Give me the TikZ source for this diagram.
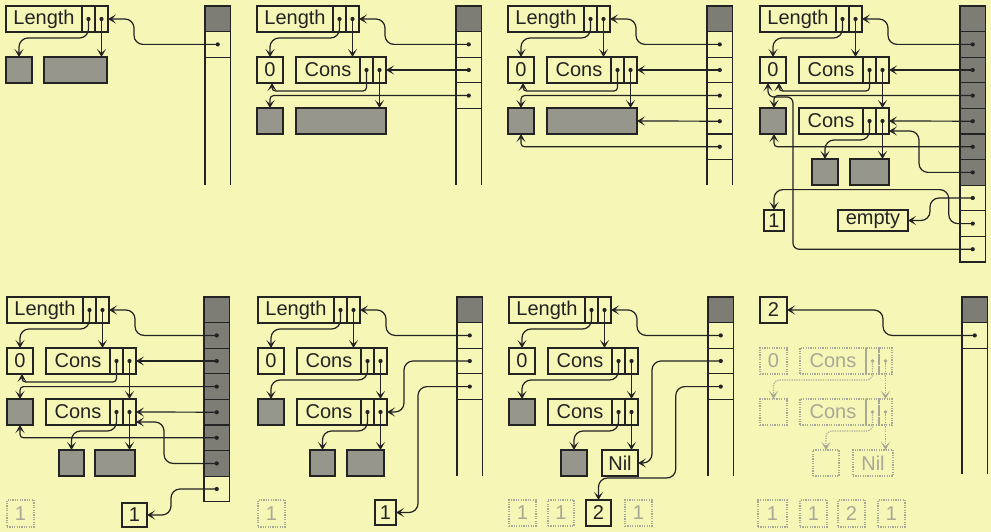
\documentclass[tikz,border=0pt]{standalone}
\usepackage{fontspec}
\setmainfont{Liberation Sans}
\usetikzlibrary{arrows.meta}
\definecolor{bg}{RGB}{246,246,182}
\definecolor{ink}{RGB}{35,35,35}
\definecolor{shadefill}{RGB}{150,150,140}
\definecolor{stackfill}{RGB}{125,125,118}
\definecolor{ghost}{RGB}{168,168,150}
\newcommand{\twocell}[2]{%
  \node[cellbox,#2] (#1c1) at (#1.north east) {};
  \node[cellbox,#2] (#1c2) at (#1c1.north east) {};}
\newcommand{\inkdot}[1]{\fill[ink] (#1.center) circle (2.1pt);}
\newcommand{\ghostdot}[1]{\fill[ghost] (#1.center) circle (1.8pt);}
\tikzset{
  base/.style={draw=ink, line width=1.2pt, inner sep=0pt, outer sep=0pt, anchor=north west,
    minimum height=26pt, text=ink, font=\fontsize{20}{22}\selectfont},
  cellbox/.style={base, minimum width=13pt},
  shaded/.style={base, fill=shadefill},
  stackcell/.style={base, minimum width=25.5pt, minimum height=25.6pt},
  stackdark/.style={stackcell, fill=stackfill},
  ghostbox/.style={base, draw=ghost, text=ghost, dash pattern=on 1.2pt off 1.2pt},
  linktip/.style={-{Stealth[length=8pt,width=9pt,inset=4pt]}},
  link/.style={draw=ink, line width=1.2pt, rounded corners=9pt, linktip},
  tight/.style={link, rounded corners=3.5pt},
  ghostlink/.style={draw=ghost, line width=1.2pt, rounded corners=6pt, dash pattern=on 1.2pt off 1.2pt,
    -{Stealth[length=8pt,width=9pt,inset=4pt]}},
  colline/.style={draw=ink, line width=1.2pt},
}
\begin{document}
\begin{tikzpicture}[x=1pt,y=-1pt]
\useasboundingbox (0,0) rectangle (991,532);
\fill[bg] (0,0) rectangle (991,532);

% ---------------- Panel A ----------------
\begin{scope}[shift={(6,6)}]
\node[base,minimum width=76pt] (a-len) at (0,0) {Length};
\twocell{a-len}{}
\node[shaded,minimum width=26pt] (a-acc) at (0,51) {};
\node[shaded,minimum width=63pt] (a-lst) at (38,51) {};
\node[stackdark] (a-s0) at (199,0) {};
\node[stackcell] (a-s1) at (199,25.6) {};
\draw[colline] (a-s1.south west) -- ++(0,127.8) (a-s1.south east) -- ++(0,127.8);
\draw[link] (a-lenc1.center) -- ++(0,19) -| (a-acc.north);
\draw[link] (a-lenc2.center) -- (a-lenc2.center |- a-lst.north);
\draw[link] (a-s1.center) -| ([xshift=26pt]a-lenc2.east) -- (a-lenc2.east);
\inkdot{a-lenc1}\inkdot{a-lenc2}\inkdot{a-s1}
\end{scope}

% ---------------- Panel B ----------------
\begin{scope}[shift={(257,6)}]
\node[base,minimum width=76pt] (b-len) at (0,0) {Length};
\twocell{b-len}{}
\node[base,minimum width=26pt] (b-zero) at (0,51) {0};
\node[base,minimum width=64pt] (b-cons) at (39,51) {Cons};
\twocell{b-cons}{}
\node[shaded,minimum width=26pt] (b-acc) at (0,102) {};
\node[shaded,minimum width=90pt] (b-lst) at (39,102) {};
\node[stackdark] (b-s0) at (199,0) {};
\foreach \i in {1,2,3} {\node[stackcell] (b-s\i) at (199,{\i*25.6}) {};}
\draw[colline] (b-s3.south west) -- ++(0,76.6) (b-s3.south east) -- ++(0,76.6);
\draw[link] (b-lenc1.center) -- ++(0,19) -| (b-zero.north);
\draw[link] (b-lenc2.center) -- (b-lenc2.center |- b-cons.north);
\draw[link] (b-s1.center) -| ([xshift=26pt]b-lenc2.east) -- (b-lenc2.east);
\draw[link] (b-s2.center) -- (b-consc2.east);
\draw[tight] (b-consc1.center) -- ++(0,21) -| ([xshift=2pt]b-zero.south);
\draw[tight] (b-s3.center) -| (b-acc.north);
\draw[link] (b-consc2.center) -- (b-consc2.center |- b-lst.north);
\inkdot{b-lenc1}\inkdot{b-lenc2}\inkdot{b-consc1}\inkdot{b-consc2}
\inkdot{b-s1}\inkdot{b-s2}\inkdot{b-s3}
\end{scope}

% ---------------- Panel C ----------------
\begin{scope}[shift={(508,6)}]
\node[base,minimum width=76pt] (c-len) at (0,0) {Length};
\twocell{c-len}{}
\node[base,minimum width=26pt] (c-zero) at (0,51) {0};
\node[base,minimum width=64pt] (c-cons) at (39,51) {Cons};
\twocell{c-cons}{}
\node[shaded,minimum width=26pt] (c-acc) at (0,102) {};
\node[shaded,minimum width=90pt] (c-lst) at (39,102) {};
\node[stackdark] (c-s0) at (199,0) {};
\foreach \i in {1,...,5} {\node[stackcell] (c-s\i) at (199,{\i*25.6}) {};}
\draw[colline] (c-s5.south west) -- ++(0,25.4) (c-s5.south east) -- ++(0,25.4);
\draw[link] (c-lenc1.center) -- ++(0,19) -| (c-zero.north);
\draw[link] (c-lenc2.center) -- (c-lenc2.center |- c-cons.north);
\draw[link] (c-s1.center) -| ([xshift=26pt]c-lenc2.east) -- (c-lenc2.east);
\draw[link] (c-s2.center) -- (c-consc2.east);
\draw[tight] (c-consc1.center) -- ++(0,21) -| ([xshift=2pt]c-zero.south);
\draw[tight] (c-s3.center) -| (c-acc.north);
\draw[link] (c-consc2.center) -- (c-consc2.center |- c-lst.north);
\draw[link] (c-s4.center) -- (c-lst.east);
\draw[tight] (c-s5.center) -| (c-acc.south);
\inkdot{c-lenc1}\inkdot{c-lenc2}\inkdot{c-consc1}\inkdot{c-consc2}
\inkdot{c-s1}\inkdot{c-s2}\inkdot{c-s3}\inkdot{c-s4}\inkdot{c-s5}
\end{scope}

% ---------------- Panel D ----------------
\begin{scope}[shift={(760,6)}]
\node[base,minimum width=76pt] (d-len) at (0,0) {Length};
\twocell{d-len}{}
\node[base,minimum width=26pt] (d-zero) at (0,51) {0};
\node[base,minimum width=64pt] (d-cons) at (39,51) {Cons};
\twocell{d-cons}{}
\node[shaded,minimum width=26pt] (d-acc) at (0,102) {};
\node[base,minimum width=64pt] (d-cons2) at (39,102) {Cons};
\twocell{d-cons2}{}
\node[shaded,minimum width=26pt] (d-r4a) at (52,153) {};
\node[shaded,minimum width=39pt] (d-r4b) at (90,153) {};
\node[base,minimum width=20pt,minimum height=21pt] (d-one) at (4,204) {1};
\node[base,minimum width=70pt,minimum height=21pt] (d-empty) at (78,204) {empty};
\foreach \i in {0,...,6} {\node[stackdark] (d-s\i) at (200,{\i*25.6}) {};}
\foreach \i in {7,8,9} {\node[stackcell] (d-s\i) at (200,{\i*25.6}) {};}
\draw[link] (d-lenc1.center) -- ++(0,19) -| (d-zero.north);
\draw[link] (d-lenc2.center) -- (d-lenc2.center |- d-cons.north);
\draw[link] (d-s1.center) -| ([xshift=26pt]d-lenc2.east) -- (d-lenc2.east);
\draw[link] (d-s2.center) -- (d-consc2.east);
\draw[tight] (d-consc1.center) -- ++(0,21) -| ([xshift=6pt]d-zero.south);
\draw[tight] (d-s3.center) -| ([xshift=1pt]d-acc.north);
\draw[link] (d-consc2.center) -- (d-cons2c2.north);
\draw[link] (d-s4.center) -- (d-cons2c2.east);
\draw[link] (d-cons2c1.center) -- ++(0,19) -| (d-r4a.north);
\draw[link] (d-cons2c2.center) -- (d-cons2c2.center |- d-r4b.north);
\draw[tight] (d-s5.center) -| ([xshift=1pt]d-acc.south);
\draw[link] (d-s6.center) -| ([xshift=30pt,yshift=3pt]d-cons2c2.south east) -- ([yshift=3pt]d-cons2c2.south east);
\draw[link] (d-s7.center) -| ([xshift=22pt]d-empty.east) -- (d-empty.east);
\draw[link] (d-s8.center) -- ++(-24,0) -- ++(0,-34) -| (d-one.north);
\draw[link,rounded corners=6pt] (d-s9.center) -| ([xshift=20pt,yshift=-14pt]d-zero.south) -| ([xshift=-5pt]d-zero.south);
\inkdot{d-lenc1}\inkdot{d-lenc2}\inkdot{d-consc1}\inkdot{d-consc2}
\inkdot{d-cons2c1}\inkdot{d-cons2c2}
\foreach \i in {1,...,9} {\inkdot{d-s\i}}
\end{scope}

% ---------------- Panel E ----------------
\begin{scope}[shift={(7,297)}]
\node[base,minimum width=76pt] (e-len) at (0,0) {Length};
\twocell{e-len}{}
\node[base,minimum width=26pt] (e-zero) at (0,51) {0};
\node[base,minimum width=64pt] (e-cons) at (39,51) {Cons};
\twocell{e-cons}{}
\node[shaded,minimum width=26pt] (e-acc) at (0,102) {};
\node[base,minimum width=64pt] (e-cons2) at (39,102) {Cons};
\twocell{e-cons2}{}
\node[shaded,minimum width=25pt] (e-r4a) at (52,153) {};
\node[shaded,minimum width=40pt] (e-r4b) at (88,153) {};
\node[base,minimum width=25pt,minimum height=24pt] (e-one) at (115,206) {1};
\node[ghostbox,minimum width=27pt,minimum height=27pt] (e-g1) at (0,203) {1};
\foreach \i in {0,...,6} {\node[stackdark] (e-s\i) at (197,{\i*25.6}) {};}
\node[stackcell] (e-s7) at (197,179.2) {};
\draw[link] (e-lenc1.center) -- ++(0,19) -| (e-zero.north);
\draw[link] (e-lenc2.center) -- (e-lenc2.center |- e-cons.north);
\draw[link] (e-s1.center) -| ([xshift=26pt]e-lenc2.east) -- (e-lenc2.east);
\draw[link] (e-s2.center) -- (e-consc2.east);
\draw[tight] (e-consc1.center) -- ++(0,21) -| ([xshift=2pt]e-zero.south);
\draw[tight] (e-s3.center) -| (e-acc.north);
\draw[link] (e-consc2.center) -- (e-cons2c2.north);
\draw[link] (e-s4.center) -- (e-cons2c2.east);
\draw[link] (e-cons2c1.center) -- ++(0,19) -| (e-r4a.north);
\draw[link] (e-cons2c2.center) -- (e-cons2c2.center |- e-r4b.north);
\draw[tight] (e-s5.center) -| (e-acc.south);
\draw[link] (e-s6.center) -| ([xshift=28pt,yshift=3pt]e-cons2c2.south east) -- ([yshift=3pt]e-cons2c2.south east);
\draw[link] (e-s7.center) -| ([xshift=24pt]e-one.east) -- (e-one.east);
\inkdot{e-lenc1}\inkdot{e-lenc2}\inkdot{e-consc1}\inkdot{e-consc2}
\inkdot{e-cons2c1}\inkdot{e-cons2c2}
\foreach \i in {1,...,7} {\inkdot{e-s\i}}
\end{scope}

% ---------------- Panel F ----------------
\begin{scope}[shift={(258,297)}]
\node[base,minimum width=76pt] (f-len) at (0,0) {Length};
\twocell{f-len}{}
\node[base,minimum width=26pt] (f-zero) at (0,51) {0};
\node[base,minimum width=64pt] (f-cons) at (39,51) {Cons};
\twocell{f-cons}{}
\node[shaded,minimum width=26pt] (f-acc) at (0,102) {};
\node[base,minimum width=64pt] (f-cons2) at (39,102) {Cons};
\twocell{f-cons2}{}
\node[shaded,minimum width=25pt] (f-r4a) at (52,153) {};
\node[shaded,minimum width=37pt] (f-r4b) at (89,153) {};
\node[base,minimum width=21pt,minimum height=25pt] (f-one) at (117,203) {1};
\node[ghostbox,minimum width=27pt,minimum height=27pt] (f-g1) at (0,203) {1};
\node[stackdark] (f-s0) at (199,0) {};
\foreach \i in {1,2,3} {\node[stackcell] (f-s\i) at (199,{\i*25.6}) {};}
\draw[colline] (f-s3.south west) -- ++(0,76.6) (f-s3.south east) -- ++(0,76.6);
\draw[link] (f-lenc1.center) -- ++(0,19) -| (f-zero.north);
\draw[link] (f-lenc2.center) -- (f-lenc2.center |- f-cons.north);
\draw[link] (f-s1.center) -| ([xshift=26pt]f-lenc2.east) -- (f-lenc2.east);
\draw[link] (f-s2.center) -| ([xshift=17pt]f-cons2c2.east) -- (f-cons2c2.east);
\draw[link] (f-s3.center) -| ([xshift=22pt]f-one.east) -- (f-one.east);
\draw[link] (f-consc1.center) -- ++(0,19) -| (f-acc.north);
\draw[link] (f-consc2.center) -- (f-cons2c2.north);
\draw[link] (f-cons2c1.center) -- ++(0,19) -| (f-r4a.north);
\draw[link] (f-cons2c2.center) -- (f-cons2c2.center |- f-r4b.north);
\inkdot{f-lenc1}\inkdot{f-lenc2}\inkdot{f-consc1}\inkdot{f-consc2}
\inkdot{f-cons2c1}\inkdot{f-cons2c2}
\inkdot{f-s1}\inkdot{f-s2}\inkdot{f-s3}
\end{scope}

% ---------------- Panel G ----------------
\begin{scope}[shift={(509,297)}]
\node[base,minimum width=76pt] (g-len) at (0,0) {Length};
\twocell{g-len}{}
\node[base,minimum width=26pt] (g-zero) at (0,51) {0};
\node[base,minimum width=64pt] (g-cons) at (39,51) {Cons};
\twocell{g-cons}{}
\node[shaded,minimum width=26pt] (g-acc) at (0,102) {};
\node[base,minimum width=64pt] (g-cons2) at (39,102) {Cons};
\twocell{g-cons2}{}
\node[shaded,minimum width=26pt] (g-r4a) at (52,153) {};
\node[base,minimum width=36pt] (g-nil) at (93,153) {Nil};
\node[ghostbox,minimum width=27pt,minimum height=26pt] (g-g1) at (0,203) {1};
\node[ghostbox,minimum width=26pt,minimum height=26pt] (g-g2) at (39,203) {1};
\node[base,minimum width=25pt,minimum height=26pt] (g-two) at (77,203) {2};
\node[ghostbox,minimum width=27pt,minimum height=26pt] (g-g3) at (116,203) {1};
\node[stackdark] (g-s0) at (199,0) {};
\foreach \i in {1,2,3} {\node[stackcell] (g-s\i) at (199,{\i*25.6}) {};}
\draw[colline] (g-s3.south west) -- ++(0,76.6) (g-s3.south east) -- ++(0,76.6);
\draw[link] (g-lenc1.center) -- ++(0,19) -| (g-zero.north);
\draw[link] (g-lenc2.center) -- (g-lenc2.center |- g-cons.north);
\draw[link] (g-s1.center) -| ([xshift=26pt]g-lenc2.east) -- (g-lenc2.east);
\draw[link] (g-s2.center) -| ([xshift=14pt]g-nil.east) -- (g-nil.east);
\draw[link] (g-s3.center) -- ++(-45,0) |- ([yshift=22pt]g-two.north) -- (g-two.north);
\draw[link] (g-consc1.center) -- ++(0,19) -| (g-acc.north);
\draw[link] (g-consc2.center) -- (g-cons2c2.north);
\draw[link] (g-cons2c1.center) -- ++(0,19) -| (g-r4a.north);
\draw[link] (g-cons2c2.center) -- (g-cons2c2.center |- g-nil.north);
\inkdot{g-lenc1}\inkdot{g-lenc2}\inkdot{g-consc1}\inkdot{g-consc2}
\inkdot{g-cons2c1}\inkdot{g-cons2c2}
\inkdot{g-s1}\inkdot{g-s2}\inkdot{g-s3}
\end{scope}

% ---------------- Panel H ----------------
\begin{scope}[shift={(760,297)}]
\node[base,minimum width=27pt] (h-two) at (0,0) {2};
\node[ghostbox,minimum width=27pt] (h-zero) at (0,51) {0};
\node[ghostbox,minimum width=66pt] (h-cons) at (40,51) {Cons};
\twocell{h-cons}{ghostbox}
\node[ghostbox,minimum width=27pt] (h-acc) at (0,102) {};
\node[ghostbox,minimum width=66pt] (h-cons2) at (40,102) {Cons};
\twocell{h-cons2}{ghostbox}
\node[ghostbox,minimum width=26pt] (h-r4a) at (53,153) {};
\node[ghostbox,minimum width=40pt] (h-nil) at (93,153) {Nil};
\node[ghostbox,minimum width=29pt,minimum height=27pt] (h-g1) at (-2,203) {1};
\node[ghostbox,minimum width=27pt,minimum height=27pt] (h-g2) at (40,203) {1};
\node[ghostbox,minimum width=27pt,minimum height=27pt] (h-g3) at (78,203) {2};
\node[ghostbox,minimum width=27pt,minimum height=27pt] (h-g4) at (118,203) {1};
\node[stackdark] (h-s0) at (202,0) {};
\node[stackcell] (h-s1) at (202,25.6) {};
\draw[colline] (h-s1.south west) -- ++(0,126) (h-s1.south east) -- ++(0,126);
\draw[link] (h-s1.center) -| ([xshift=96pt]h-two.east) -- (h-two.east);
\draw[ghostlink] (h-consc1.center) -- ++(0,19) -| (h-acc.north);
\draw[ghostlink] (h-consc2.center) -- (h-cons2c2.north);
\draw[ghostlink] (h-cons2c1.center) -- ++(0,19) -| (h-r4a.north);
\draw[ghostlink] (h-cons2c2.center) -- (h-cons2c2.center |- h-nil.north);
\ghostdot{h-consc1}\ghostdot{h-consc2}\ghostdot{h-cons2c1}\ghostdot{h-cons2c2}
\inkdot{h-s1}
\end{scope}
\end{tikzpicture}
\end{document}
